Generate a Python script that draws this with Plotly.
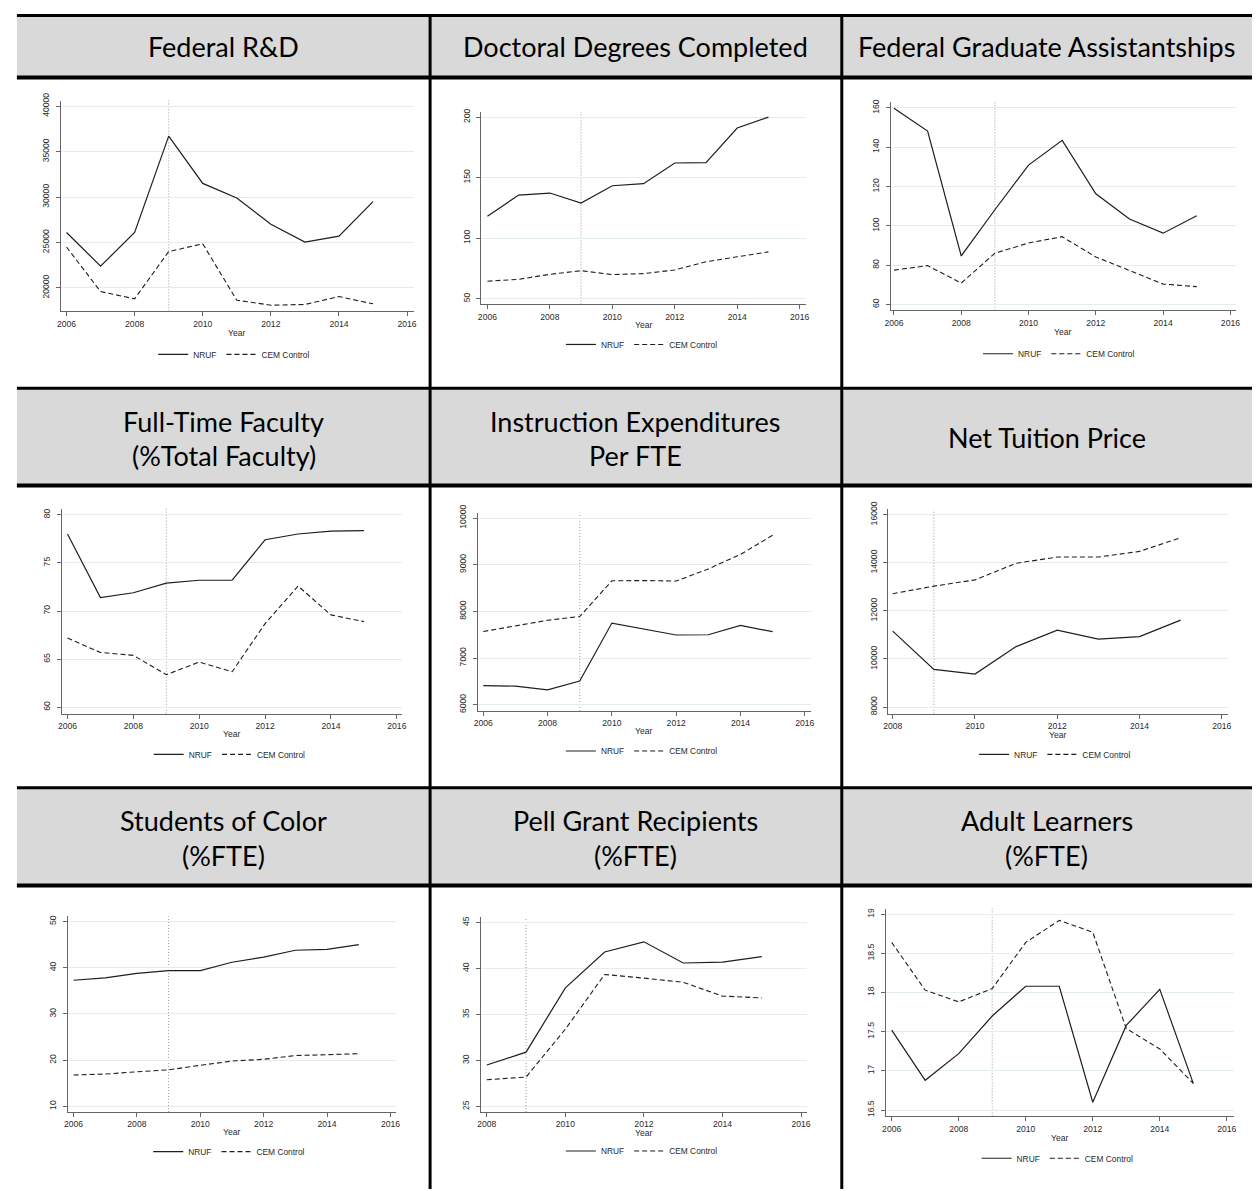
import plotly.graph_objects as go

# ---------------- data ----------------
years_a = [2006, 2007, 2008, 2009, 2010, 2011, 2012, 2013, 2014, 2015]
years_b = [2008, 2009, 2010, 2011, 2012, 2013, 2014, 2015]
xticks_a = [2006, 2008, 2010, 2012, 2014, 2016]
xticks_b = [2008, 2010, 2012, 2014, 2016]
treatment_year = 2009
series_names = ["NRUF", "CEM Control"]

titles = [
    ["Federal R&D"],
    ["Doctoral Degrees Completed"],
    ["Federal Graduate Assistantships"],
    ["Full-Time Faculty", "(%Total Faculty)"],
    ["Instruction Expenditures", "Per FTE"],
    ["Net Tuition Price"],
    ["Students of Color", "(%FTE)"],
    ["Pell Grant Recipients", "(%FTE)"],
    ["Adult Learners", "(%FTE)"],
]

fed_rd_nruf = [26100, 22400, 26100, 36700, 31500, 29900, 27000, 25050, 25700, 29500]
fed_rd_cem = [24500, 19600, 18800, 24000, 24850, 18650, 18100, 18180, 19050, 18250]
doc_nruf = [118.2, 135.6, 137.3, 129.1, 143.3, 145.0, 162.1, 162.4, 191.0, 200.0]
doc_cem = [64.5, 66.1, 70.2, 73.2, 70.0, 70.8, 73.8, 80.6, 84.7, 88.7]
fga_nruf = [159.8, 148.2, 84.7, 108.2, 130.9, 143.5, 116.3, 103.5, 96.3, 105.2]
fga_cem = [77.5, 79.8, 70.9, 86.1, 91.3, 94.5, 84.2, 77.1, 70.4, 69.1]
ftf_nruf = [78.0, 71.4, 71.9, 72.9, 73.2, 73.2, 77.4, 78.0, 78.3, 78.35]
ftf_cem = [67.2, 65.7, 65.4, 63.4, 64.7, 63.7, 68.7, 72.6, 69.6, 68.9]
ief_nruf = [6410, 6400, 6320, 6510, 7750, 7620, 7495, 7500, 7700, 7565]
ief_cem = [7570, 7690, 7810, 7890, 8655, 8660, 8650, 8910, 9220, 9630]
ntp_nruf = [11160, 9570, 9375, 10515, 11200, 10830, 10930, 11615]
ntp_cem = [12715, 13030, 13290, 13980, 14240, 14240, 14475, 15040]
soc_nruf = [37.3, 37.8, 38.8, 39.4, 39.4, 41.2, 42.3, 43.8, 44.0, 45.0]
soc_cem = [16.8, 17.0, 17.5, 17.9, 18.9, 19.8, 20.2, 21.0, 21.2, 21.4]
pell_nruf = [29.5, 30.9, 37.9, 41.8, 42.9, 40.6, 40.7, 41.3]
pell_cem = [27.9, 28.2, 33.4, 39.35, 38.95, 38.5, 37.0, 36.8]
adult_nruf = [17.52, 16.88, 17.22, 17.70, 18.08, 18.08, 16.60, 17.58, 18.04, 16.84]
adult_cem = [18.64, 18.03, 17.88, 18.05, 18.64, 18.92, 18.77, 17.54, 17.28, 16.84]

yticks_fed_rd = [20000, 25000, 30000, 35000, 40000]
yticks_doc = [50, 100, 150, 200]
yticks_fga = [60, 80, 100, 120, 140, 160]
yticks_ftf = [60, 65, 70, 75, 80]
yticks_ief = [6000, 7000, 8000, 9000, 10000]
yticks_ntp = [8000, 10000, 12000, 14000, 16000]
yticks_soc = [10, 20, 30, 40, 50]
yticks_pell = [25, 30, 35, 40, 45]
yticks_adult = [16.5, 17, 17.5, 18, 18.5, 19]

panels_data = [
    (years_a, fed_rd_nruf, fed_rd_cem, xticks_a, yticks_fed_rd),
    (years_a, doc_nruf, doc_cem, xticks_a, yticks_doc),
    (years_a, fga_nruf, fga_cem, xticks_a, yticks_fga),
    (years_a, ftf_nruf, ftf_cem, xticks_a, yticks_ftf),
    (years_a, ief_nruf, ief_cem, xticks_a, yticks_ief),
    (years_b, ntp_nruf, ntp_cem, xticks_b, yticks_ntp),
    (years_a, soc_nruf, soc_cem, xticks_a, yticks_soc),
    (years_b, pell_nruf, pell_cem, xticks_b, yticks_pell),
    (years_a, adult_nruf, adult_cem, xticks_a, yticks_adult),
]

# ---------------- layout geometry (pixels) ----------------
W, H = 1256, 1191

def px(x):
    return x / W

def py(y):
    return 1 - y / H

def fmt_tick(v):
    return f"{v:g}"

panel_boxes = [
    ((55, 411, 93.3, 306), (2005.825, 2016.195), (17414, 40622)),
    ((479.3, 806, 105, 299), (2005.81, 2016.19), (45.3, 204.1)),
    ((891.7, 1240, 95, 305), (2005.9, 2016.17), (57.0, 162.9)),
    ((56, 399.3, 505, 711.7), (2005.82, 2016.16), (59.34, 80.62)),
    ((475.3, 811, 509, 709), (2005.82, 2016.18), (5866, 10113)),
    ((889.3, 1231.7, 505.7, 711.7), (2007.89, 2016.15), (7724, 16219)),
    ((62.3, 393.3, 916, 1113.3), (2005.82, 2016.18), (8.8, 51.14)),
    ((478.7, 807, 916.7, 1113.3), (2007.85, 2016.14), (24.4, 45.6)),
    ((886.7, 1237.7, 908.3, 1117.7), (2005.82, 2016.21), (16.42, 19.07)),
]
legend_pos = [(230, 349.3), (641, 339.3), (1061.5, 348.7),
              (225.5, 752.7), (641, 749.3), (1057.5, 752.7),
              (225, 1153.3), (641, 1152.7), (1060, 1160)]
year_label_y = [328, 319.3, 326.7, 731.7, 729.3, 733.5, 1133.3, 1134.5, 1139.3]

col_bounds = [(11, 427.5), (427.5, 842.5), (842.5, 1256)]
header_rows = [(7.5, 70), (383.5, 481.5), (786.3, 885)]
title_y_single = [39, 433, 836]
title_y_double = [(38, 38), (416.7, 451.7), (819, 855)]

TICK_FONT = dict(family="Liberation Sans, Arial, sans-serif", size=8.6, color="#2a2a2a")
TITLE_FONT = dict(family="Lato, Open Sans, sans-serif", size=27, color="#000000")
AXIS_COLOR = "#666666"
GRID_COLOR = "#e3eded"
LINE_COLOR = "#1e1e1e"

fig = go.Figure()
shapes = []
annotations = []

for i, ((xs, nruf, cem, xt, yt), (box, xr, yr)) in enumerate(zip(panels_data, panel_boxes)):
    n = i + 1
    xa = "x" if n == 1 else f"x{n}"
    ya = "y" if n == 1 else f"y{n}"
    lg = "legend" if n == 1 else f"legend{n}"
    fig.add_trace(go.Scatter(x=xs, y=nruf, mode="lines", name=series_names[0],
                             line=dict(color=LINE_COLOR, width=1.2),
                             xaxis=xa, yaxis=ya, legend=lg, showlegend=True))
    fig.add_trace(go.Scatter(x=xs, y=cem, mode="lines", name=series_names[1],
                             line=dict(color=LINE_COLOR, width=1.1, dash="5px,3px"),
                             xaxis=xa, yaxis=ya, legend=lg, showlegend=True))
    x0, x1, yt0, yb0 = box
    xkey = "xaxis" if n == 1 else f"xaxis{n}"
    ykey = "yaxis" if n == 1 else f"yaxis{n}"
    fig.update_layout({
        xkey: dict(domain=[px(x0), px(x1)], range=list(xr), anchor=ya,
                   tickvals=xt, ticktext=[fmt_tick(v) for v in xt],
                   ticks="outside", ticklen=4, tickwidth=1,
                   tickcolor=AXIS_COLOR, showline=True, linecolor=AXIS_COLOR,
                   linewidth=1, showgrid=False, zeroline=False,
                   tickfont=TICK_FONT, fixedrange=True),
        ykey: dict(domain=[py(yb0), py(yt0)], range=list(yr), anchor=xa,
                   tickvals=yt, ticktext=[fmt_tick(v) for v in yt],
                   ticks="outside", ticklen=4, ticklabelstandoff=3,
                   tickwidth=1, tickcolor=AXIS_COLOR, showline=True,
                   linecolor=AXIS_COLOR, linewidth=1, showgrid=True,
                   gridcolor=GRID_COLOR, gridwidth=1, zeroline=False,
                   tickangle=-90, tickfont=TICK_FONT, fixedrange=True),
        lg: dict(orientation="h", x=px(legend_pos[i][0]), y=py(legend_pos[i][1]),
                 xanchor="center", yanchor="middle", bgcolor="rgba(0,0,0,0)",
                 font=dict(family=TICK_FONT["family"], size=8.4, color="#2a2a2a"),
                 itemwidth=30, tracegroupgap=0),
    })
    shapes.append(dict(type="line", xref=xa, yref=f"{ya} domain",
                       x0=treatment_year, x1=treatment_year, y0=0, y1=1,
                       line=dict(color="#9a9a9a", width=1, dash="1px,2px"), layer="below"))
    annotations.append(dict(text="Year", xref=f"{xa} domain", x=0.5, yref="paper",
                            y=py(year_label_y[i]), showarrow=False,
                            xanchor="center", yanchor="middle",
                            font=dict(family=TICK_FONT["family"], size=8.6, color="#2a2a2a")))

for r, (yt0, yb0) in enumerate(header_rows):
    shapes.append(dict(type="rect", xref="paper", yref="paper",
                       x0=px(11), x1=px(1256), y0=py(yb0), y1=py(yt0),
                       fillcolor="#d9d9d9", line=dict(width=0), layer="below"))
    for c, (cx0, cx1) in enumerate(col_bounds):
        k = r * 3 + c
        cx = px((cx0 + cx1) / 2)
        lines = titles[k]
        if len(lines) == 1:
            annotations.append(dict(text=lines[0], xref="paper", yref="paper",
                                    x=cx, y=py(title_y_single[r]), showarrow=False,
                                    xanchor="center", yanchor="middle", font=TITLE_FONT))
        else:
            for t, ty in zip(lines, title_y_double[r]):
                annotations.append(dict(text=t, xref="paper", yref="paper",
                                        x=cx, y=py(ty), showarrow=False,
                                        xanchor="center", yanchor="middle", font=TITLE_FONT))

for (yt0, yb0) in header_rows:
    for yy, w in ((yt0, 3), (yb0, 4)):
        shapes.append(dict(type="line", xref="paper", yref="paper",
                           x0=px(11), x1=px(1256), y0=py(yy), y1=py(yy),
                           line=dict(color="#000000", width=w)))
for xx in (427.5, 842.5):
    shapes.append(dict(type="line", xref="paper", yref="paper",
                       x0=px(xx), x1=px(xx), y0=py(6), y1=py(1191),
                       line=dict(color="#000000", width=3)))

fig.update_layout(
    width=W, height=H,
    margin=dict(l=0, r=0, t=0, b=0),
    paper_bgcolor="white", plot_bgcolor="white",
    shapes=shapes, annotations=annotations,
    showlegend=True,
)

fig.write_html("out.html", config={"displayModeBar": False},
               post_script="document.body.style.margin='0';document.body.style.overflow='hidden';")
